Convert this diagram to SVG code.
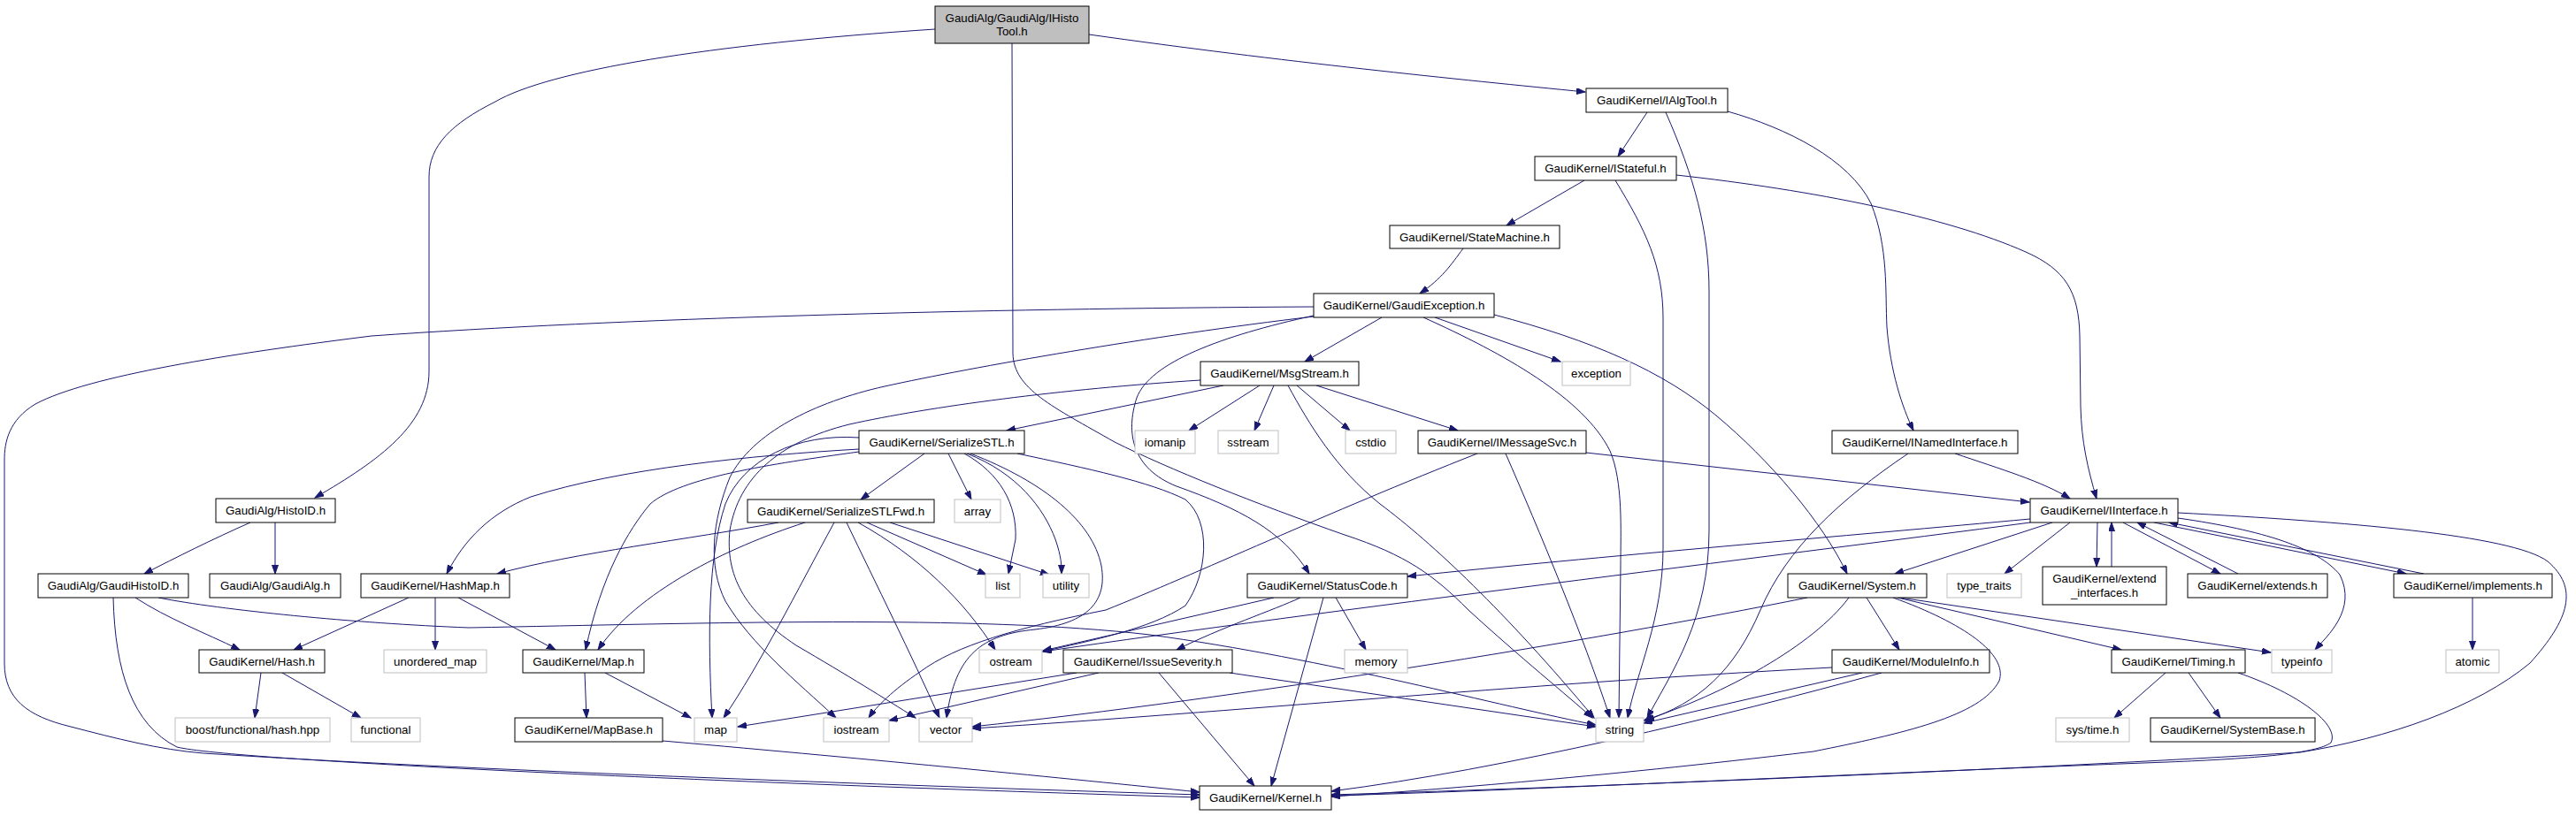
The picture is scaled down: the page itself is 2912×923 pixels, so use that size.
<svg xmlns="http://www.w3.org/2000/svg" width="2912" height="923" viewBox="0 0 2912 923">
<style>
.n rect{fill:#ffffff;stroke:#000000;stroke-width:1}
.g rect{fill:#ffffff;stroke:#bfbfbf;stroke-width:1}
.root rect{fill:#bfbfbf;stroke:#000000;stroke-width:1}
text{font-family:"Liberation Sans",Arial,Helvetica,sans-serif;font-size:13.3px;text-anchor:middle;fill:#000000}
#edges path{fill:none;stroke:#191970;stroke-width:1;marker-end:url(#arr)}
</style>
<defs>
<marker id="arr" markerUnits="userSpaceOnUse" markerWidth="11" markerHeight="8" refX="10" refY="3.5" orient="auto">
<path d="M0,0 L10,3.5 L0,7 z" fill="#191970" stroke="#191970" stroke-width="1"/>
</marker>
</defs>
<rect width="2912" height="923" fill="#ffffff"/>
<g id="edges">
<path d="M1057,33 C800,50 620,80 560,115 C510,140 485,165 485,200 L485,420 C485,480 430,520 356,563"/>
<path d="M1231,39 C1450,70 1650,90 1792,104"/>
<path d="M1144,49 L1145,400 C1146,440 1190,460 1260,500 C1320,530 1420,570 1520,605 C1590,628 1620,650 1660,690 C1720,745 1770,785 1800,812"/>
<path d="M1862,127 L1829,177"/>
<path d="M1953,126 C2020,145 2090,180 2115,230 C2135,280 2131,330 2133,370 C2137,420 2150,460 2163,487"/>
<path d="M1883,127 C1915,200 1932,260 1932,330 L1932,600 C1932,700 1890,760 1862,812"/>
<path d="M1791,204 L1703,255"/>
<path d="M1895,198 C2050,215 2200,245 2290,285 C2335,305 2350,330 2351,380 L2352,460 C2353,500 2360,530 2370,564"/>
<path d="M1826,204 C1860,260 1880,300 1880,360 L1880,620 C1880,700 1850,760 1840,812"/>
<path d="M1654,281 C1640,300 1630,315 1605,332"/>
<path d="M1485,347 C1100,349 700,360 420,380 C260,400 100,425 40,457 C10,475 5,500 5,520 L5,750 C5,790 30,810 80,822 C130,835 180,848 230,852 C500,870 1000,888 1356,899"/>
<path d="M1562,359 L1475,409"/>
<path d="M1622,359 L1764,409"/>
<path d="M1609,359 C1700,400 1790,450 1820,510 C1835,545 1832,600 1832,640 L1830,812"/>
<path d="M1689,356 C1800,385 1880,420 1940,470 C2000,520 2060,590 2088,649"/>
<path d="M1485,357 C1380,380 1300,410 1285,450 C1272,490 1280,530 1330,550 C1400,575 1450,600 1480,649"/>
<path d="M1485,358 C1300,380 1100,415 1000,437 C920,455 850,490 825,540 C805,590 800,640 820,680 C850,730 900,770 945,812"/>
<path d="M1383,436 L1138,487"/>
<path d="M1424,436 L1344,487"/>
<path d="M1440,436 L1418,487"/>
<path d="M1466,436 L1526,487"/>
<path d="M1488,436 L1648,487"/>
<path d="M1456,436 C1480,480 1510,530 1560,570 C1620,615 1700,690 1802,812"/>
<path d="M1357,430 C1200,440 1050,460 960,480 C880,500 835,540 825,600 C820,650 840,690 900,730 C960,765 1000,790 1035,812"/>
<path d="M1793,512 L2294,568"/>
<path d="M1702,513 C1740,600 1790,720 1820,812"/>
<path d="M1670,513 C1500,580 1350,650 1250,690 C1150,710 1080,730 1040,760 C1010,780 990,800 982,812"/>
<path d="M1045,513 L973,565"/>
<path d="M1072,513 L1098,565"/>
<path d="M1090,513 C1130,535 1150,570 1148,610 L1140,649"/>
<path d="M1093,513 C1150,535 1180,575 1193,610 C1200,630 1200,640 1200,649"/>
<path d="M1097,513 C1180,545 1235,590 1245,640 C1252,680 1230,705 1170,712 C1110,718 1080,740 1070,812"/>
<path d="M1150,513 C1230,530 1300,545 1340,565 C1370,590 1365,650 1340,685 C1300,712 1230,725 1179,737"/>
<path d="M971,495 C900,490 840,520 820,570 C800,630 800,720 805,812"/>
<path d="M971,508 C850,515 700,530 600,562 C555,580 525,610 505,649"/>
<path d="M971,511 C870,525 770,540 735,570 C710,600 680,650 662,735"/>
<path d="M880,591 C780,610 650,625 562,649"/>
<path d="M910,591 C820,620 720,670 676,735"/>
<path d="M943,591 C900,670 860,750 818,812"/>
<path d="M957,591 C990,660 1030,740 1062,812"/>
<path d="M970,591 C1040,630 1090,680 1125,735"/>
<path d="M980,591 L1115,650"/>
<path d="M1006,591 L1186,650"/>
<path d="M283,591 C240,610 200,630 163,649"/>
<path d="M311,591 L311,649"/>
<path d="M153,676 C190,700 230,715 271,735"/>
<path d="M128,676 C130,760 150,820 200,845 C260,860 800,885 1356,902"/>
<path d="M179,676 C250,690 400,705 530,710 C800,705 1100,695 1300,718 C1500,745 1700,800 1804,820"/>
<path d="M462,676 L332,735"/>
<path d="M492,676 L492,735"/>
<path d="M518,676 L628,735"/>
<path d="M295,761 L288,812"/>
<path d="M319,761 L408,812"/>
<path d="M661,761 L663,812"/>
<path d="M684,761 L781,812"/>
<path d="M749,838 C1000,860 1200,880 1356,896"/>
<path d="M1440,676 L1179,736"/>
<path d="M1470,676 C1440,690 1380,710 1330,735"/>
<path d="M1496,676 L1437,889"/>
<path d="M1510,676 L1544,735"/>
<path d="M1217,761 L834,822"/>
<path d="M1242,761 L1005,815"/>
<path d="M1310,761 L1418,889"/>
<path d="M1390,761 L1804,822"/>
<path d="M2295,587 C2100,605 1800,630 1591,652"/>
<path d="M2295,591 C2000,630 1500,690 1179,737"/>
<path d="M2320,591 L2142,649"/>
<path d="M2340,591 L2266,649"/>
<path d="M2371,591 L2370,641"/>
<path d="M2387,641 L2387,591"/>
<path d="M2400,591 L2510,649"/>
<path d="M2530,649 L2416,591"/>
<path d="M2435,591 L2720,649"/>
<path d="M2740,649 L2452,591"/>
<path d="M2462,586 C2560,600 2620,620 2645,650 C2665,690 2630,720 2617,735"/>
<path d="M2462,580 C2650,590 2840,605 2880,635 C2915,665 2905,700 2860,750 C2800,800 2700,835 2600,851 C2300,870 1800,890 1505,899"/>
<path d="M2795,676 L2795,735"/>
<path d="M2210,513 C2260,530 2310,545 2340,564"/>
<path d="M2157,513 C2080,565 2020,620 1990,690 C1960,760 1920,795 1860,815"/>
<path d="M2110,676 L2147,735"/>
<path d="M2145,676 L2398,735"/>
<path d="M2148,676 L2567,738"/>
<path d="M2043,676 C1800,725 1400,790 1099,822"/>
<path d="M2090,676 C2050,730 1950,785 1858,815"/>
<path d="M2140,676 C2220,705 2270,740 2260,770 C2240,810 2150,830 2050,850 C1800,880 1600,895 1505,901"/>
<path d="M2071,755 C1700,775 1400,805 1099,824"/>
<path d="M2105,761 L1858,818"/>
<path d="M2127,761 C1950,810 1700,870 1505,895"/>
<path d="M2448,761 L2390,812"/>
<path d="M2474,761 L2510,812"/>
<path d="M2530,761 C2600,785 2645,820 2635,840 C2620,852 2550,858 2450,862 C2100,875 1700,895 1505,900"/>
</g>
<g id="n_ihistotool" class="root"><rect x="1057" y="7" width="174" height="42"/><text x="1144" y="25">GaudiAlg/GaudiAlg/IHisto</text><text x="1144" y="40">Tool.h</text></g>
<g id="n_ialgtool" class="n"><rect x="1793" y="100" width="160" height="27"/><text x="1873" y="118">GaudiKernel/IAlgTool.h</text></g>
<g id="n_istateful" class="n"><rect x="1735" y="177" width="160" height="27"/><text x="1815" y="195">GaudiKernel/IStateful.h</text></g>
<g id="n_statemachine" class="n"><rect x="1571" y="255" width="192" height="26"/><text x="1667" y="273">GaudiKernel/StateMachine.h</text></g>
<g id="n_gaudiexception" class="n"><rect x="1485" y="332" width="204" height="27"/><text x="1587" y="350">GaudiKernel/GaudiException.h</text></g>
<g id="n_msgstream" class="n"><rect x="1357" y="409" width="179" height="27"/><text x="1446.5" y="427">GaudiKernel/MsgStream.h</text></g>
<g id="n_exception" class="g"><rect x="1766" y="409" width="77" height="27"/><text x="1804.5" y="427">exception</text></g>
<g id="n_serializestl" class="n"><rect x="971" y="487" width="187" height="26"/><text x="1064.5" y="504.5">GaudiKernel/SerializeSTL.h</text></g>
<g id="n_iomanip" class="g"><rect x="1283" y="487" width="68" height="26"/><text x="1317" y="504.5">iomanip</text></g>
<g id="n_sstream" class="g"><rect x="1377" y="487" width="68" height="26"/><text x="1411" y="504.5">sstream</text></g>
<g id="n_cstdio" class="g"><rect x="1521" y="487" width="57" height="26"/><text x="1549.5" y="504.5">cstdio</text></g>
<g id="n_imessagesvc" class="n"><rect x="1603" y="487" width="190" height="26"/><text x="1698" y="504.5">GaudiKernel/IMessageSvc.h</text></g>
<g id="n_inamedinterface" class="n"><rect x="2071" y="487" width="210" height="26"/><text x="2176" y="504.5">GaudiKernel/INamedInterface.h</text></g>
<g id="n_histoid" class="n"><rect x="244" y="564" width="135" height="27"/><text x="311.5" y="582">GaudiAlg/HistoID.h</text></g>
<g id="n_serializestlfwd" class="n"><rect x="845" y="565" width="211" height="26"/><text x="950.5" y="582.5">GaudiKernel/SerializeSTLFwd.h</text></g>
<g id="n_array" class="g"><rect x="1079" y="565" width="52" height="26"/><text x="1105" y="582.5">array</text></g>
<g id="n_iinterface" class="n"><rect x="2295" y="564" width="167" height="27"/><text x="2378.5" y="582">GaudiKernel/IInterface.h</text></g>
<g id="n_gaudihistoid" class="n"><rect x="43" y="649" width="170" height="27"/><text x="128" y="667">GaudiAlg/GaudiHistoID.h</text></g>
<g id="n_gaudialg" class="n"><rect x="237" y="649" width="148" height="27"/><text x="311" y="667">GaudiAlg/GaudiAlg.h</text></g>
<g id="n_hashmap" class="n"><rect x="408" y="649" width="168" height="27"/><text x="492" y="667">GaudiKernel/HashMap.h</text></g>
<g id="n_list" class="g"><rect x="1114" y="649" width="39" height="27"/><text x="1133.5" y="667">list</text></g>
<g id="n_utility" class="g"><rect x="1179" y="649" width="52" height="27"/><text x="1205" y="667">utility</text></g>
<g id="n_statuscode" class="n"><rect x="1410" y="649" width="181" height="27"/><text x="1500.5" y="667">GaudiKernel/StatusCode.h</text></g>
<g id="n_system" class="n"><rect x="2021" y="649" width="157" height="27"/><text x="2099.5" y="667">GaudiKernel/System.h</text></g>
<g id="n_typetraits" class="g"><rect x="2201" y="649" width="84" height="27"/><text x="2243" y="667">type_traits</text></g>
<g id="n_extendinterfaces" class="n"><rect x="2309" y="641" width="140" height="43"/><text x="2379" y="659">GaudiKernel/extend</text><text x="2379" y="675">_interfaces.h</text></g>
<g id="n_extends" class="n"><rect x="2473" y="649" width="158" height="27"/><text x="2552" y="667">GaudiKernel/extends.h</text></g>
<g id="n_implements" class="n"><rect x="2706" y="649" width="179" height="27"/><text x="2795.5" y="667">GaudiKernel/implements.h</text></g>
<g id="n_hash" class="n"><rect x="225" y="735" width="142" height="26"/><text x="296" y="752.5">GaudiKernel/Hash.h</text></g>
<g id="n_unorderedmap" class="g"><rect x="434" y="735" width="116" height="26"/><text x="492" y="752.5">unordered_map</text></g>
<g id="n_map_h" class="n"><rect x="591" y="735" width="137" height="26"/><text x="659.5" y="752.5">GaudiKernel/Map.h</text></g>
<g id="n_ostream" class="g"><rect x="1107" y="735" width="71" height="26"/><text x="1142.5" y="752.5">ostream</text></g>
<g id="n_issueseverity" class="n"><rect x="1202" y="735" width="191" height="26"/><text x="1297.5" y="752.5">GaudiKernel/IssueSeverity.h</text></g>
<g id="n_memory" class="g"><rect x="1520" y="735" width="71" height="26"/><text x="1555.5" y="752.5">memory</text></g>
<g id="n_moduleinfo" class="n"><rect x="2071" y="735" width="178" height="26"/><text x="2160" y="752.5">GaudiKernel/ModuleInfo.h</text></g>
<g id="n_timing" class="n"><rect x="2387" y="735" width="151" height="26"/><text x="2462.5" y="752.5">GaudiKernel/Timing.h</text></g>
<g id="n_typeinfo" class="g"><rect x="2568" y="735" width="68" height="26"/><text x="2602" y="752.5">typeinfo</text></g>
<g id="n_atomic" class="g"><rect x="2765" y="735" width="60" height="26"/><text x="2795" y="752.5">atomic</text></g>
<g id="n_boosthash" class="g"><rect x="198" y="812" width="175" height="27"/><text x="285.5" y="830">boost/functional/hash.hpp</text></g>
<g id="n_functional" class="g"><rect x="397" y="812" width="78" height="27"/><text x="436" y="830">functional</text></g>
<g id="n_mapbase" class="n"><rect x="582" y="812" width="167" height="27"/><text x="665.5" y="830">GaudiKernel/MapBase.h</text></g>
<g id="n_map" class="g"><rect x="785" y="812" width="48" height="27"/><text x="809" y="830">map</text></g>
<g id="n_iostream" class="g"><rect x="931" y="812" width="74" height="27"/><text x="968" y="830">iostream</text></g>
<g id="n_vector" class="g"><rect x="1039" y="812" width="60" height="27"/><text x="1069" y="830">vector</text></g>
<g id="n_string" class="g"><rect x="1804" y="812" width="54" height="27"/><text x="1831" y="830">string</text></g>
<g id="n_systime" class="g"><rect x="2324" y="812" width="83" height="27"/><text x="2365.5" y="830">sys/time.h</text></g>
<g id="n_systembase" class="n"><rect x="2431" y="812" width="186" height="27"/><text x="2524" y="830">GaudiKernel/SystemBase.h</text></g>
<g id="n_kernel" class="n"><rect x="1356" y="889" width="149" height="27"/><text x="1430.5" y="907">GaudiKernel/Kernel.h</text></g>
</svg>
